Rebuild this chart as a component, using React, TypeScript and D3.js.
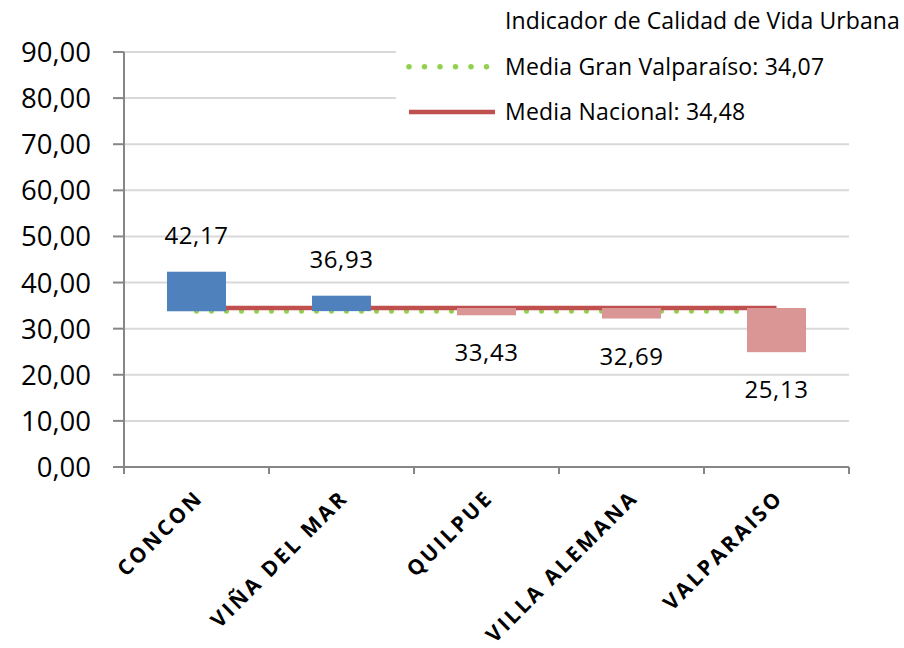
import React from "react";
import * as d3 from "d3";

const categories = ["CONCON", "VIÑA DEL MAR", "QUILPUE", "VILLA ALEMANA", "VALPARAISO"];
const values = [42.17, 36.93, 33.43, 32.69, 25.13];
const valueLabels = ["42,17", "36,93", "33,43", "32,69", "25,13"];
const barLow = [33.77, 33.8, 32.9, 32.2, 24.9];
const barHigh = [42.35, 37.15, 34.48, 34.48, 34.48];
const mediaGranValparaiso = 33.77; // plotted position (label 34,07)
const mediaNacional = 34.48;
const yTicks = [0, 10, 20, 30, 40, 50, 60, 70, 80, 90];
const titleText = "Indicador de Calidad de Vida Urbana";
const legendGV = "Media Gran Valparaíso: 34,07";
const legendNac = "Media Nacional: 34,48";

const W = 904;
const H = 648;
const left = 124;
const right = 849;
const bottom = 467;
const top = 52;
const FONT = "'Open Sans', 'Noto Sans', sans-serif";

export default function App() {
  const x = d3.scaleBand<string>().domain(categories).range([left, right]).paddingInner(0.593).paddingOuter(0.2965);
  const y = d3.scaleLinear().domain([0, 90]).range([bottom, top]);
  const step = x.step();
  const bw = x.bandwidth();
  const cx = (c: string) => (x(c) as number) + bw / 2;
  const fmt = (v: number) => d3.format(".2f")(v).replace(".", ",");
  const x0 = cx(categories[0]);
  const x1 = cx(categories[categories.length - 1]);
  const lineGen = d3.line<[number, number]>().x((d) => d[0]).y((d) => d[1]);

  return (
    <svg width={W} height={H} style={{ position: "fixed", left: 0, top: 0, background: "#fff" }} fontFamily={FONT}>
      <rect x={0} y={0} width={W} height={H} fill="#fff" />
      {/* gridlines */}
      {yTicks.filter((t) => t > 0).map((t) => (
        <line key={"g" + t} x1={left} x2={right} y1={y(t)} y2={y(t)} stroke="#D9D9D9" strokeWidth={2} />
      ))}
      {/* media gran valparaiso dotted */}
      <path
        d={lineGen([[x0, y(mediaGranValparaiso)], [x1, y(mediaGranValparaiso)]]) || ""}
        stroke="#92D050"
        strokeWidth={5}
        strokeLinecap="round"
        strokeDasharray="0 15"
        fill="none"
      />
      {/* media nacional */}
      <path
        d={lineGen([[x0, y(mediaNacional)], [x1, y(mediaNacional)]]) || ""}
        stroke="#C0504D"
        strokeWidth={4.5}
        fill="none"
      />
      {/* bars */}
      {categories.map((c, i) => (
        <rect
          key={"b" + c}
          x={x(c)}
          y={y(barHigh[i])}
          width={bw}
          height={y(barLow[i]) - y(barHigh[i])}
          fill={values[i] >= mediaNacional ? "#4F81BD" : "#D99694"}
        />
      ))}
      {/* value labels */}
      {categories.map((c, i) => {
        const above = values[i] >= mediaNacional;
        const yy = above ? y(barHigh[i]) - 28 : y(barLow[i]) + 46;
        return (
          <text key={"v" + c} x={cx(c)} y={yy} textAnchor="middle" fontSize={24} letterSpacing={0.6} fill="#000">
            {valueLabels[i]}
          </text>
        );
      })}
      {/* axes */}
      <line x1={left} x2={left} y1={top} y2={bottom + 7} stroke="#868686" strokeWidth={2} />
      <line x1={left - 11} x2={right} y1={bottom} y2={bottom} stroke="#868686" strokeWidth={2} />
      {yTicks.map((t) => (
        <g key={"t" + t}>
          <line x1={left - 11} x2={left} y1={y(t)} y2={y(t)} stroke="#868686" strokeWidth={2} />
          <text x={91} y={y(t) + 10} textAnchor="end" fontSize={27.5} fill="#000">
            {fmt(t)}
          </text>
        </g>
      ))}
      {d3.range(categories.length + 1).map((i) => (
        <line key={"xt" + i} x1={left + i * step} x2={left + i * step} y1={bottom} y2={bottom + 7} stroke="#868686" strokeWidth={2} />
      ))}
      {categories.map((c) => (
        <text
          key={"c" + c}
          transform={`translate(${cx(c) + 8},${bottom + 32}) rotate(-45)`}
          textAnchor="end"
          fontSize={21}
          fontWeight={700}
          letterSpacing={2.8}
          fill="#000"
        >
          {c}
        </text>
      ))}
      {/* legend */}
      <rect x={396} y={0} width={W - 396} height={132} fill="#fff" />
      <text x={505} y={29} fontSize={23} letterSpacing={0.1} fill="#000">{titleText}</text>
      <path
        d={lineGen([[409, 66.7], [487, 66.7]]) || ""}
        stroke="#92D050"
        strokeWidth={5.5}
        strokeLinecap="round"
        strokeDasharray="0 15.5"
        fill="none"
      />
      <text x={505} y={75} fontSize={23} letterSpacing={0.2} fill="#000">{legendGV}</text>
      <line x1={409} x2={495} y1={112} y2={112} stroke="#C0504D" strokeWidth={4.5} />
      <text x={505} y={120} fontSize={23} letterSpacing={0.2} fill="#000">{legendNac}</text>
    </svg>
  );
}
